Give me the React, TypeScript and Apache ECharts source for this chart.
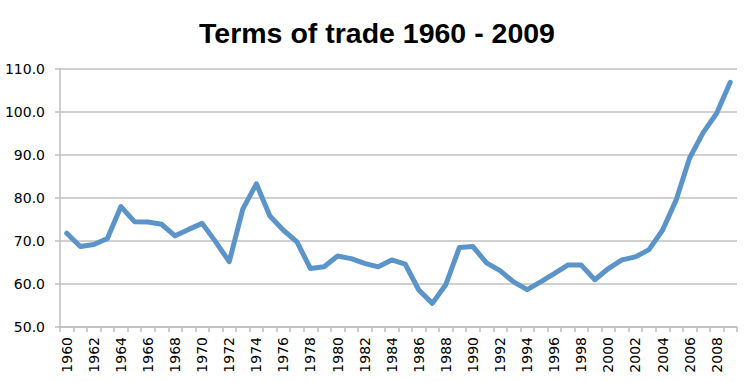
import React, { useEffect, useRef } from "react";
import * as echarts from "echarts";

const years: string[] = [];
for (let y = 1960; y <= 2009; y++) years.push(String(y));

const values = [
  71.8, 68.7, 69.2, 70.6, 78.0, 74.5, 74.4, 73.9, 71.2, 72.7,
  74.1, 69.8, 65.2, 77.4, 83.3, 75.8, 72.5, 69.8, 63.6, 64.0,
  66.5, 65.9, 64.8, 64.0, 65.6, 64.6, 58.6, 55.5, 59.9, 68.5,
  68.7, 64.9, 63.1, 60.5, 58.7, 60.5, 62.4, 64.4, 64.4, 61.0,
  63.6, 65.6, 66.3, 68.0, 72.5, 79.5, 89.3, 95.2, 99.7, 106.9,
];

const titleText = "Terms of trade 1960 - 2009";

export default function App() {
  const ref = useRef<HTMLDivElement>(null);
  useEffect(() => {
    if (!ref.current) return;
    const chart = echarts.init(ref.current, null, { renderer: "svg" });
    chart.setOption({
      animation: false,
      backgroundColor: "#ffffff",
      title: {
        text: titleText,
        left: "center",
        top: 13,
        textStyle: {
          fontFamily: "Liberation Sans, Arial, sans-serif",
          fontWeight: "bold",
          fontSize: 28.5,
          color: "#000000",
        },
      },
      grid: { left: 60, right: 17, top: 69, bottom: 55, containLabel: false },
      xAxis: {
        type: "category",
        data: years,
        boundaryGap: true,
        axisLine: { lineStyle: { color: "#bfbfbf", width: 1.5 } },
        axisTick: {
          show: true,
          length: 5,
          interval: 0,
          lineStyle: { color: "#bfbfbf", width: 1.5 },
        },
        axisLabel: {
          interval: 1,
          rotate: 90,
          margin: 10,
          fontFamily: "DejaVu Sans, Verdana, sans-serif",
          fontSize: 14,
          color: "#000000",
        },
        splitLine: { show: false },
      },
      yAxis: {
        type: "value",
        min: 50,
        max: 110,
        interval: 10,
        axisLine: { show: true, lineStyle: { color: "#bfbfbf", width: 1.5 } },
        axisTick: { show: true, length: 5, lineStyle: { color: "#bfbfbf", width: 1.5 } },
        axisLabel: {
          margin: 15,
          fontFamily: "DejaVu Sans, Verdana, sans-serif",
          fontSize: 14,
          color: "#000000",
          formatter: (v: number) => v.toFixed(1),
        },
        splitLine: { show: true, lineStyle: { color: "#c0c0c0", width: 1.5 } },
      },
      series: [
        {
          type: "line",
          data: values,
          symbol: "none",
          lineStyle: { color: "#5b94c9", width: 5, join: "round", cap: "round" },
        },
      ],
    });
    return () => chart.dispose();
  }, []);
  return (
    <div
      ref={ref}
      style={{ position: "fixed", left: 0, top: 0, width: 754, height: 382 }}
    />
  );
}
